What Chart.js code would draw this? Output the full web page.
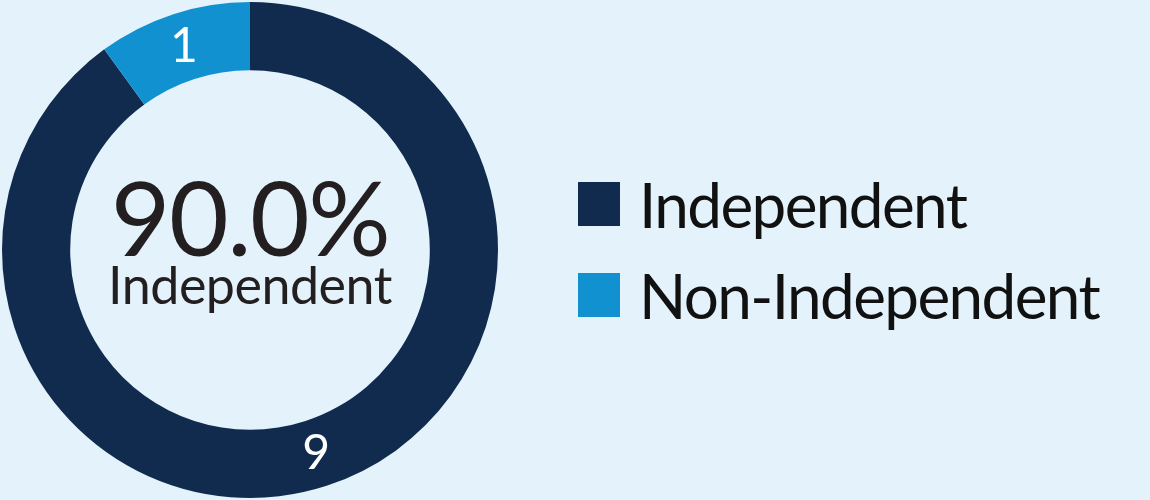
<!DOCTYPE html>
<html>
<head>
<meta charset="utf-8">
<script src="https://cdn.jsdelivr.net/npm/chart.js@4.4.0/dist/chart.umd.min.js"></script>
<style>
    body { margin: 0; background: #e4f3fb; }
    #wrap { position: relative; width: 1150px; height: 500px; background: #e4f3fb; font-family: Lato, sans-serif; overflow: hidden; }
    #chartBox { position: absolute; left: 0; top: 0; width: 500px; height: 500px; }
    #centerText { position: absolute; left: 0; top: 0; width: 500px; text-align: center; color: #231f20; pointer-events: none; }
    #centerValue { position: absolute; left: 0; width: 500px; top: 165px; font-size: 103px; line-height: 1; letter-spacing: -1.5px; }
    #centerLabel { position: absolute; left: 0; width: 500px; top: 258px; font-size: 52px; line-height: 1; letter-spacing: -0.5px; }
    #legend { position: absolute; left: 578px; top: 182px; }
    .legend-item { display: flex; align-items: center; height: 44px; margin-bottom: 47px; }
    .legend-box { width: 42px; height: 44px; margin-right: 19px; flex: none; }
    .legend-text { font-size: 62px; line-height: 1; color: #111; letter-spacing: -1.6px; }
</style>
</head>
<body>
<div id="wrap">
    <div id="chartBox"><canvas id="donutChart"></canvas></div>
    <div id="centerText">
        <div id="centerValue"></div>
        <div id="centerLabel"></div>
    </div>
    <div id="legend"></div>
</div>
<script>
// Chart data
const labels = ['Independent', 'Non-Independent'];
const counts = [9, 1];
const colors = ['#112b4e', '#1291d1'];
const centerLabel = 'Independent';

// Center text
const total = counts.reduce((a, b) => a + b, 0);
document.getElementById('centerValue').textContent = (counts[0] / total * 100).toFixed(1) + '%';
document.getElementById('centerLabel').textContent = centerLabel;

// Legend
let html = '';
labels.forEach((label, i) => {
    html += `
        <div class="legend-item">
            <div class="legend-box" style="background: ${colors[i]};"></div>
            <div class="legend-text">${label}</div>
        </div>
    `;
});
document.getElementById('legend').innerHTML = html;

// Value labels inside the slices
const sliceLabels = {
    id: 'sliceLabels',
    afterDatasetsDraw(chart) {
        const ctx = chart.ctx;
        const meta = chart.getDatasetMeta(0);
        ctx.save();
        ctx.fillStyle = '#ffffff';
        ctx.font = '48px Lato';
        ctx.textAlign = 'center';
        ctx.textBaseline = 'middle';
        meta.data.forEach((arc, i) => {
            const pos = arc.tooltipPosition();
            ctx.fillText(String(counts[i]), pos.x, pos.y);
        });
        ctx.restore();
    }
};

const ctx = document.getElementById('donutChart').getContext('2d');
new Chart(ctx, {
    type: 'doughnut',
    data: {
        labels: labels,
        datasets: [{
            data: counts,
            backgroundColor: colors,
            borderWidth: 0
        }]
    },
    options: {
        responsive: true,
        maintainAspectRatio: false,
        animation: false,
        cutout: '72.5%',
        layout: { padding: 2 },
        plugins: {
            legend: { display: false },
            tooltip: { enabled: false }
        }
    },
    plugins: [sliceLabels]
});
</script>
</body>
</html>
